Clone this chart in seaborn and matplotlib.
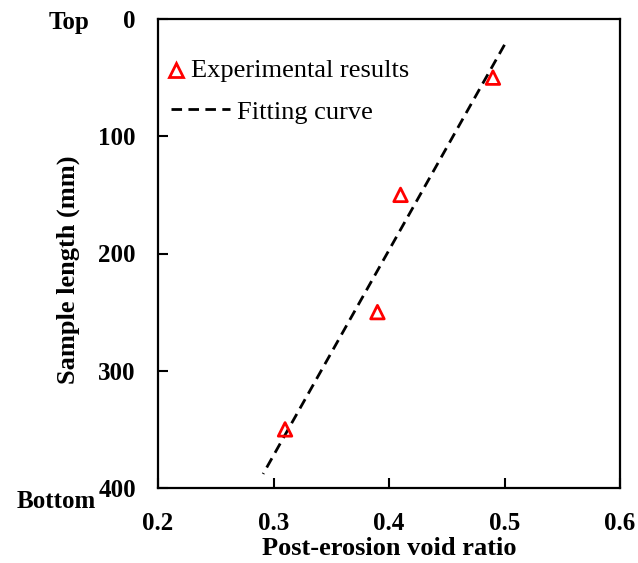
import matplotlib
matplotlib.use("Agg")
import matplotlib.pyplot as plt
import seaborn as sns
import pandas as pd
from matplotlib.lines import Line2D
from matplotlib.legend_handler import HandlerLine2D

# Measured void ratio along the sample
depth_mm = [50, 150, 250, 350]
void_ratio = [0.49, 0.41, 0.39, 0.31]

# Linear fitting curve (end points)
fit_depth = [22, 388]
fit_void = [0.500, 0.291]

x_ticks = [0.2, 0.3, 0.4, 0.5, 0.6]
y_ticks = [0, 100, 200, 300, 400]

sns.set_style("white")
plt.rcParams["font.family"] = ["Liberation Serif", "DejaVu Serif"]
plt.rcParams["text.color"] = "black"
plt.rcParams["axes.labelcolor"] = "black"
plt.rcParams["xtick.color"] = "black"
plt.rcParams["ytick.color"] = "black"

FS_TICK = 18
FS = 19
DASH = (0, (3.8, 2.3))


class LoweredMarker(HandlerLine2D):
    """Legend handler that centres the marker on the label text."""
    def create_artists(self, legend, orig_handle, xdescent, ydescent,
                       width, height, fontsize, trans):
        return super().create_artists(legend, orig_handle, xdescent,
                                      ydescent + 4, width, height, fontsize, trans)


fig = plt.figure(figsize=(6.38, 5.63), dpi=100)
ax = fig.add_axes([158 / 638, 1 - 488 / 563, (620 - 158) / 638, (488 - 19) / 563])

pts = pd.DataFrame({"e": void_ratio, "d": depth_mm})
fit = pd.DataFrame({"e": fit_void, "d": fit_depth})

sns.lineplot(data=fit, x="e", y="d", ax=ax, color="black", lw=2.0,
             linestyle=DASH, sort=False, legend=False)
sns.scatterplot(data=pts, x="e", y="d", ax=ax, marker="^", s=95,
                facecolor="none", edgecolor="#ff0000", linewidth=2.0,
                legend=False, zorder=3)

ax.set_xlim(0.2, 0.6)
ax.set_ylim(400, 0)
ax.set_xticks(x_ticks)
ax.set_yticks(y_ticks)
ax.set_xticklabels([f"{v:.1f}" for v in x_ticks])
ax.set_yticklabels([str(v) for v in y_ticks])
ax.tick_params(direction="in", length=7, width=1.5, labelsize=FS_TICK,
               bottom=True, left=True)
ax.tick_params(axis="x", pad=17)
ax.tick_params(axis="y", pad=16)
for lab in ax.get_xticklabels() + ax.get_yticklabels():
    lab.set_fontweight("bold")
for sp in ax.spines.values():
    sp.set_linewidth(1.6)
    sp.set_color("black")

ax.set_xlabel("Post-erosion void ratio", fontsize=FS, fontweight="bold", labelpad=2)
ax.set_ylabel("Sample length (mm)", fontsize=FS, fontweight="bold")
ax.yaxis.set_label_coords((80 - 158) / 462, 1 - (270 - 19) / 469)

fig.text(0.108, 0.960, "Top", fontsize=FS_TICK, fontweight="bold", ha="center", va="center")
fig.text(0.088, 0.110, "Bottom", fontsize=FS_TICK, fontweight="bold", ha="center", va="center")

# Legend entries
h_pts = Line2D([], [], marker="^", linestyle="none", markersize=9.5,
               markerfacecolor="none", markeredgecolor="#ff0000", markeredgewidth=2.0)
h_fit = Line2D([], [], color="black", lw=2.0, linestyle=DASH)
leg1 = ax.legend([h_pts], ["Experimental results"], loc="center left",
                 bbox_to_anchor=((169 - 158) / 462, 1 - (70 - 19) / 469),
                 frameon=False, fontsize=FS, handlelength=0.55,
                 handletextpad=0.3, borderaxespad=0, borderpad=0,
                 handler_map={h_pts: LoweredMarker()})
ax.add_artist(leg1)
ax.legend([h_fit], ["Fitting curve"], loc="center left",
          bbox_to_anchor=((171 - 158) / 462, 1 - (112 - 19) / 469),
          frameon=False, fontsize=FS, handlelength=2.25,
          handletextpad=0.25, borderaxespad=0, borderpad=0)

fig.savefig("out.png", dpi=100)
